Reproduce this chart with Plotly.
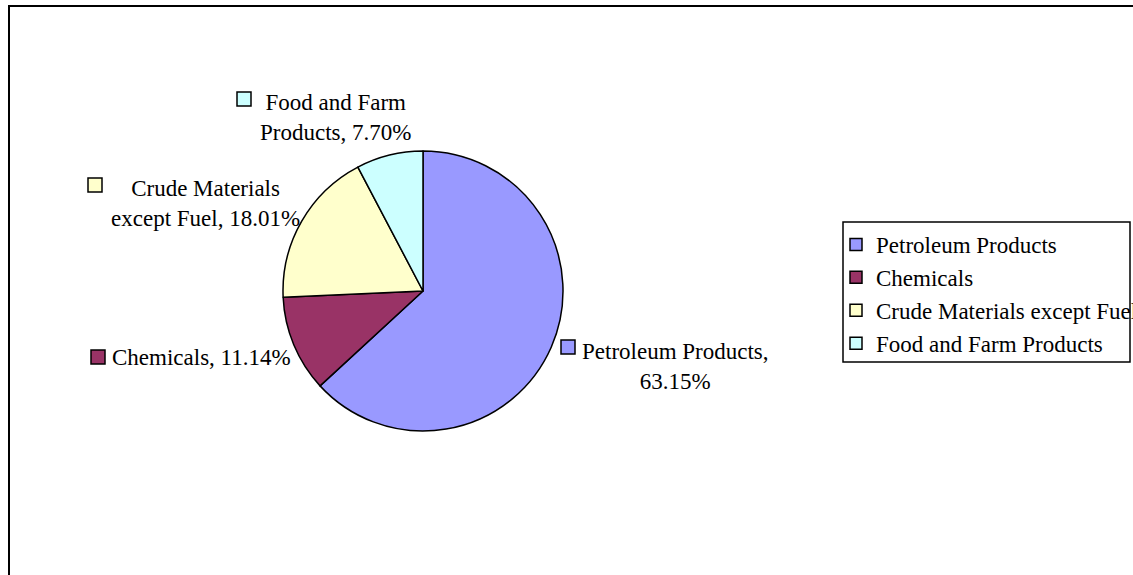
import plotly.graph_objects as go

# ---- data ----
categories = ["Petroleum Products", "Chemicals", "Crude Materials except Fuel", "Food and Farm Products"]
shares = [63.15, 11.14, 18.01, 7.70]

# ---- styles / layout ----
colors = ["#9999FF", "#993366", "#FFFFCC", "#CCFFFF"]
W, H = 1133, 575
FONT = "Liberation Serif, Times New Roman, serif"
FS = 23

def px(x):
    return x / W

def py(y):
    return 1 - y / H

# pie centre/radius in pixels
cx, cy, r = 423, 291, 140

# data-label layout: text centre (px), key square top-left (px), word after which to wrap
label_layout = [
    dict(tx=675, ty=366, kx=561, ky=340, brk=2),
    dict(tx=201, ty=357, kx=91, ky=350, brk=None),
    dict(tx=205, ty=204, kx=88, ky=178, brk=2),
    dict(tx=335, ty=118, kx=237, ky=92, brk=3),
]

fig = go.Figure()
fig.add_trace(go.Pie(
    labels=categories,
    values=shares,
    sort=False,
    direction="clockwise",
    rotation=0,
    marker=dict(colors=colors, line=dict(color="black", width=1.5)),
    textinfo="none",
    hovertemplate="%{label}: %{value:.2f}%<extra></extra>",
    domain=dict(x=[px(cx - r), px(cx + r)], y=[py(cy + r), py(cy - r)]),
    showlegend=True,
))

annotations = []
shapes = []
for cat, val, col, lay in zip(categories, shares, colors, label_layout):
    words = f"{cat}, {val:.2f}%".split(" ")
    if lay["brk"]:
        text = " ".join(words[:lay["brk"]]) + "<br>" + " ".join(words[lay["brk"]:])
    else:
        text = " ".join(words)
    annotations.append(dict(
        x=px(lay["tx"]), y=py(lay["ty"]), xref="paper", yref="paper",
        text=text, showarrow=False, align="center",
        xanchor="center", yanchor="middle",
        font=dict(family=FONT, size=FS, color="black"),
    ))
    shapes.append(dict(
        type="rect", xref="paper", yref="paper",
        x0=px(lay["kx"]), x1=px(lay["kx"] + 14),
        y0=py(lay["ky"] + 14), y1=py(lay["ky"]),
        fillcolor=col, line=dict(color="black", width=1.5),
    ))

# outer chart border
shapes.append(dict(type="rect", xref="paper", yref="paper",
                   x0=px(9), x1=px(1145), y0=py(590), y1=py(6),
                   line=dict(color="black", width=2), fillcolor="rgba(0,0,0,0)"))
# legend box
shapes.append(dict(type="rect", xref="paper", yref="paper",
                   x0=px(843), x1=px(1130), y0=py(362), y1=py(222),
                   line=dict(color="black", width=1.5), fillcolor="rgba(0,0,0,0)"))

fig.update_layout(
    width=W, height=H,
    margin=dict(l=0, r=0, t=0, b=0, autoexpand=False),
    paper_bgcolor="white",
    plot_bgcolor="white",
    annotations=annotations,
    shapes=shapes,
    legend=dict(
        x=px(836), y=py(223), xanchor="left", yanchor="top",
        font=dict(family=FONT, size=FS, color="black"),
        bgcolor="rgba(0,0,0,0)", borderwidth=0,
        itemclick=False, tracegroupgap=0,
    ),
    font=dict(family=FONT),
)

fig.write_html(
    "out.html",
    config={"displayModeBar": False},
    post_script="document.body.style.margin='0';document.body.style.overflow='hidden';",
)
